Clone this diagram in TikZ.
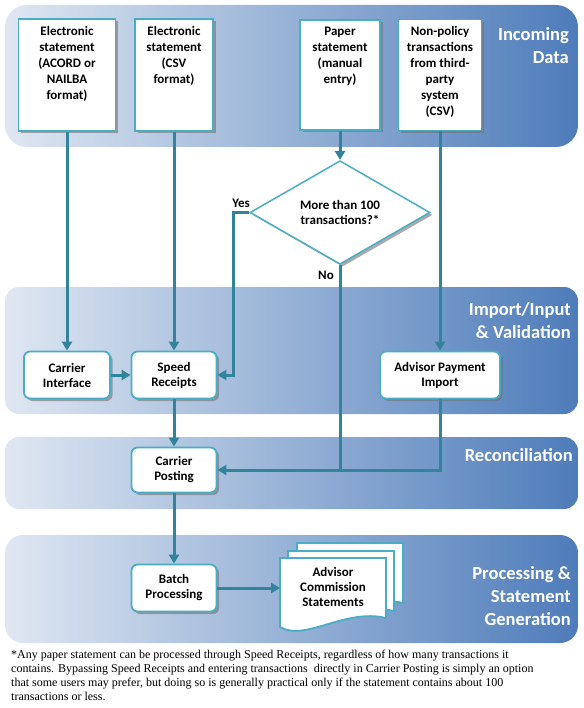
\documentclass[tikz,border=0pt]{standalone}
\usepackage{fontspec}
\setmainfont{Carlito}
\newfontfamily\notefont{Liberation Serif}
\usetikzlibrary{shapes.geometric,arrows.meta,shadows}
\definecolor{bandL}{RGB}{223,231,242}
\definecolor{bandM}{RGB}{176,195,222}
\definecolor{bandR}{RGB}{78,124,186}
\definecolor{boxline}{RGB}{75,172,198}
\definecolor{flowline}{RGB}{49,132,155}
\begin{document}
\begin{tikzpicture}[x=1pt,y=-1pt]
  \tikzstyle{band}=[rounded corners=14pt,left color=bandL,middle color=bandM,right color=bandR]
  \tikzstyle{title}=[text=white,font=\fontsize{18.5}{23}\selectfont\bfseries,align=right,anchor=east,inner sep=0pt]
  \tikzstyle{boxshadow}=[drop shadow={shadow xshift=2.5pt,shadow yshift=-2.5pt,fill=black!55,opacity=0.6}]
  \tikzstyle{source}=[draw=boxline,line width=1.8pt,fill=white,inner sep=0pt,boxshadow,font=\fontsize{13}{16}\selectfont\bfseries]
  \tikzstyle{task}=[draw=boxline,line width=1.8pt,fill=white,rounded corners=6pt,minimum height=47pt,align=center,boxshadow,font=\fontsize{13}{15}\selectfont\bfseries]
  \tikzstyle{decision}=[diamond,draw=boxline,line width=1.5pt,fill=white,minimum width=180pt,minimum height=95pt,inner sep=0pt,align=center,boxshadow,font=\fontsize{13}{14.5}\selectfont\bfseries]
  \tikzstyle{lbl}=[font=\fontsize{13}{15}\selectfont\bfseries,inner sep=0pt]
  \tikzstyle{page}=[draw=boxline,line width=1.8pt,fill=white]
  \tikzstyle{flow}=[draw=flowline,line width=3pt,-{Triangle[width=10pt,length=9pt]}]
  \tikzstyle{link}=[draw=flowline,line width=3pt]

  \useasboundingbox (0,0) rectangle (583,708);

  % swim lanes
  \shade[band,rounded corners=22pt] (5,5) rectangle (578,147);
  \shade[band] (5,287) rectangle (578,414);
  \shade[band] (5,437) rectangle (578,509);
  \shade[band,rounded corners=18pt] (5,535) rectangle (578,643);

  \node[title] (tIncoming) at (569,46) {Incoming\\Data};
  \node[title] (tImport) at (571,321) {Import/Input\\\& Validation};
  \node[title] (tRecon) at (573,455) {Reconciliation};
  \node[title] (tProcess) at (571,596) {Processing \&\\Statement\\Generation};

  % incoming data
  \node[source,minimum width=97pt,minimum height=112pt] (acord) at (67,75)
    {\parbox[c][98pt][t]{92pt}{\centering Electronic\\statement\\(ACORD or\\NAILBA\\format)}};
  \node[source,minimum width=78pt,minimum height=112pt] (csv) at (174,75)
    {\parbox[c][98pt][t]{74pt}{\centering Electronic\\statement\\(CSV\\format)}};
  \node[source,minimum width=80pt,minimum height=110pt] (paper) at (340,75)
    {\parbox[c][96pt][t]{76pt}{\centering Paper\\statement\\(manual\\entry)}};
  \node[source,minimum width=83pt,minimum height=111pt] (thirdparty) at (440,75)
    {\parbox[c][97pt][t]{80pt}{\centering Non-policy\\transactions\\from third-\\party\\system\\(CSV)}};

  \node[decision] (manyTx) at (340,212.5) {More than 100\\transactions?*};
  \node[lbl] (yes) at (241,203) {Yes};
  \node[lbl] (no) at (326,275) {No};

  % import / input
  \node[task,minimum width=86pt] (carrierIf) at (67,375) {Carrier\\Interface};
  \node[task,minimum width=85pt] (speed) at (174,375) {Speed\\Receipts};
  \node[task,minimum width=120pt] (advImport) at (440,375) {Advisor Payment\\Import};

  % reconciliation
  \node[task,minimum width=85pt,minimum height=45pt] (posting) at (174,470) {Carrier\\Posting};

  % processing
  \node[task,minimum width=85pt] (batch) at (174,588) {Batch\\Processing};
  \foreach \dx/\dy in {17/-15,8/-7,0/0}
    \draw[page,shift={(\dx,\dy)}] (280,558) -- (386,558) -- (386,618)
      .. controls (345,608) and (305,642) .. (280,627) -- cycle;
  \node[lbl,align=center,font=\fontsize{13}{15}\selectfont\bfseries] (statements) at (333,587)
    {Advisor\\Commission\\Statements};
  \coordinate (docIn) at (280,588);

  % connectors
  \draw[flow] (acord) -- (carrierIf);
  \draw[flow] (csv) -- (speed);
  \draw[flow] (paper) -- (manyTx);
  \draw[flow] (thirdparty) -- (advImport);
  \draw[flow] (manyTx.west) -- ++(-16,0) |- (speed.east);
  \draw[link] (manyTx.south) -- (manyTx.south |- posting.east);
  \draw[flow] (carrierIf) -- (speed);
  \draw[flow] (speed) -- (posting);
  \draw[flow] (advImport.south) |- (posting.east);
  \draw[flow] (posting) -- (batch);
  \draw[flow] (batch.east) -- (docIn);

  % footnote
  \node[anchor=north west,align=left,inner sep=0pt,font=\notefont\fontsize{12}{13.8}\selectfont] (note) at (11,650)
    {*Any paper statement can be processed through Speed Receipts, regardless of how many transactions it\\
     contains. Bypassing Speed Receipts and entering transactions\ \ directly in Carrier Posting is simply an option\\
     that some users may prefer, but doing so is generally practical only if the statement contains about 100\\
     transactions or less.};
\end{tikzpicture}
\end{document}
